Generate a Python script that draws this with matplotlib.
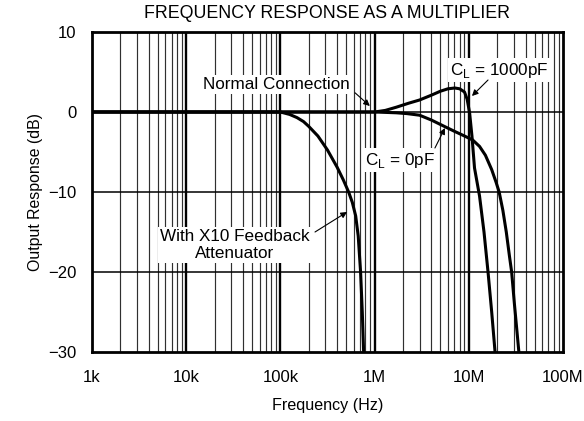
import matplotlib
matplotlib.use("Agg")
import matplotlib.pyplot as plt
import numpy as np

plt.rcParams['font.family'] = ['Liberation Sans', 'DejaVu Sans']

# Data (frequency in Hz, response in dB)
freq_normal_0pf = [1e3, 1e5, 1e6, 1.7e6, 2.2e6, 3e6, 4e6, 5.5e6, 7e6, 9e6, 11e6, 13e6,
                   15e6, 17.5e6, 19.5e6, 21e6, 23e6, 25e6, 27e6, 28.5e6, 30.5e6, 32.5e6, 34e6]
resp_normal_0pf = [0, 0, 0, -0.1, -0.2, -0.4, -1.0, -1.8, -2.4, -3.0, -3.5, -4.3,
                   -5.4, -7.2, -8.8, -10, -12.3, -15, -18, -20, -24, -27.5, -30]

freq_1000pf = [1e3, 1e5, 1e6, 1.3e6, 1.7e6, 2.3e6, 3e6, 4e6, 5e6, 6e6, 7.1e6, 8e6, 9e6,
               9.6e6, 10.2e6, 10.8e6, 11.5e6, 13e6, 14.5e6, 16e6, 17.5e6, 19e6]
resp_1000pf = [0, 0, 0, 0.2, 0.6, 1.1, 1.5, 2.1, 2.6, 2.9, 3.0, 2.9, 2.5,
               1.6, -0.1, -3.0, -7.0, -10.5, -15, -20, -25, -30]

freq_x10 = [1e3, 1e4, 1e5, 1.25e5, 1.5e5, 1.76e5, 2e5, 2.5e5, 3.16e5, 4e5, 4.66e5,
            5.3e5, 5.8e5, 6.3e5, 6.7e5, 7.1e5, 7.4e5, 7.65e5]
resp_x10 = [0, 0, 0, -0.3, -0.7, -1.2, -1.8, -3.0, -4.75, -6.9, -8.5,
            -10, -11.3, -13, -15.5, -20, -25, -30]

x_ticks = [1e3, 1e4, 1e5, 1e6, 1e7, 1e8]
x_tick_labels = ['1k', '10k', '100k', '1M', '10M', '100M']
y_ticks = [-30, -20, -10, 0, 10]
y_tick_labels = ['\u221230', '\u221220', '\u221210', '0', '10']

fig = plt.figure(figsize=(5.84, 4.21), dpi=100)
ax = fig.add_axes([92/584, 1 - 352/421, (563-92)/584, (352-32)/421])

ax.set_xscale('log')
ax.set_xlim(1e3, 1e8)
ax.set_ylim(-30, 10)

# grid
for d in range(3, 8):
    for m in range(2, 10):
        ax.axvline(m * 10**d, color='#303030', lw=0.85, zorder=1)
for d in range(4, 8):
    ax.axvline(10**d, color='black', lw=1.7, zorder=1)
for yv in [-20, -10, 0]:
    ax.axhline(yv, color='black', lw=1.1, zorder=1)

lw = 2.2
ax.plot(freq_normal_0pf, resp_normal_0pf, color='black', lw=lw, zorder=3, solid_capstyle='butt')
ax.plot(freq_1000pf, resp_1000pf, color='black', lw=lw, zorder=3, solid_capstyle='butt')
ax.plot(freq_x10, resp_x10, color='black', lw=lw, zorder=3, solid_capstyle='butt')

ax.set_xticks(x_ticks)
ax.set_xticklabels(x_tick_labels)
ax.xaxis.set_minor_locator(matplotlib.ticker.NullLocator())
ax.set_yticks(y_ticks)
ax.set_yticklabels(y_tick_labels)
ax.tick_params(axis='x', length=0, labelsize=12, pad=13)
ax.tick_params(axis='y', length=0, labelsize=12, pad=11)
for s in ax.spines.values():
    s.set_linewidth(2.0)
    s.set_zorder(4)

ax.set_xlabel('Frequency (Hz)', fontsize=11.6, labelpad=9)
ax.set_ylabel('Output Response (dB)', fontsize=11.4, labelpad=4)
ax.set_title('FREQUENCY RESPONSE AS A MULTIPLIER', fontsize=12.8, pad=10)

bbox = dict(boxstyle='square,pad=0.12', fc='white', ec='none')
arrow = dict(arrowstyle='-|>', color='black', lw=0.8, mutation_scale=9, shrinkA=0, shrinkB=0)
fs = 12.3

ax.text(9.0e4, 3.4, 'Normal Connection', fontsize=fs, ha='center', va='center', bbox=bbox, zorder=5)
ax.annotate('', xy=(8.9e5, 0.75), xytext=(6.2e5, 2.4), arrowprops=arrow, zorder=5)

ax.text(2.1e7, 5.25, 'C$_\\mathregular{L}$ = 1000pF', fontsize=fs, ha='center', va='center', bbox=bbox, zorder=5)
ax.annotate('', xy=(1.08e7, 2.0), xytext=(1.6e7, 4.0), arrowprops=arrow, zorder=5)

ax.text(1.85e6, -6.0, 'C$_\\mathregular{L}$ = 0pF', fontsize=fs, ha='center', va='center', bbox=bbox, zorder=5)
ax.annotate('', xy=(5.58e6, -2.0), xytext=(4.37e6, -4.5), arrowprops=arrow, zorder=5)

ax.text(3.3e4, -16.6, 'With X10 Feedback\nAttenuator', fontsize=fs, ha='center', va='center',
        bbox=bbox, linespacing=1.2, zorder=5)
ax.annotate('', xy=(5.1e5, -12.5), xytext=(2.33e5, -15.0), arrowprops=arrow, zorder=5)

fig.savefig('out.png', dpi=100)
